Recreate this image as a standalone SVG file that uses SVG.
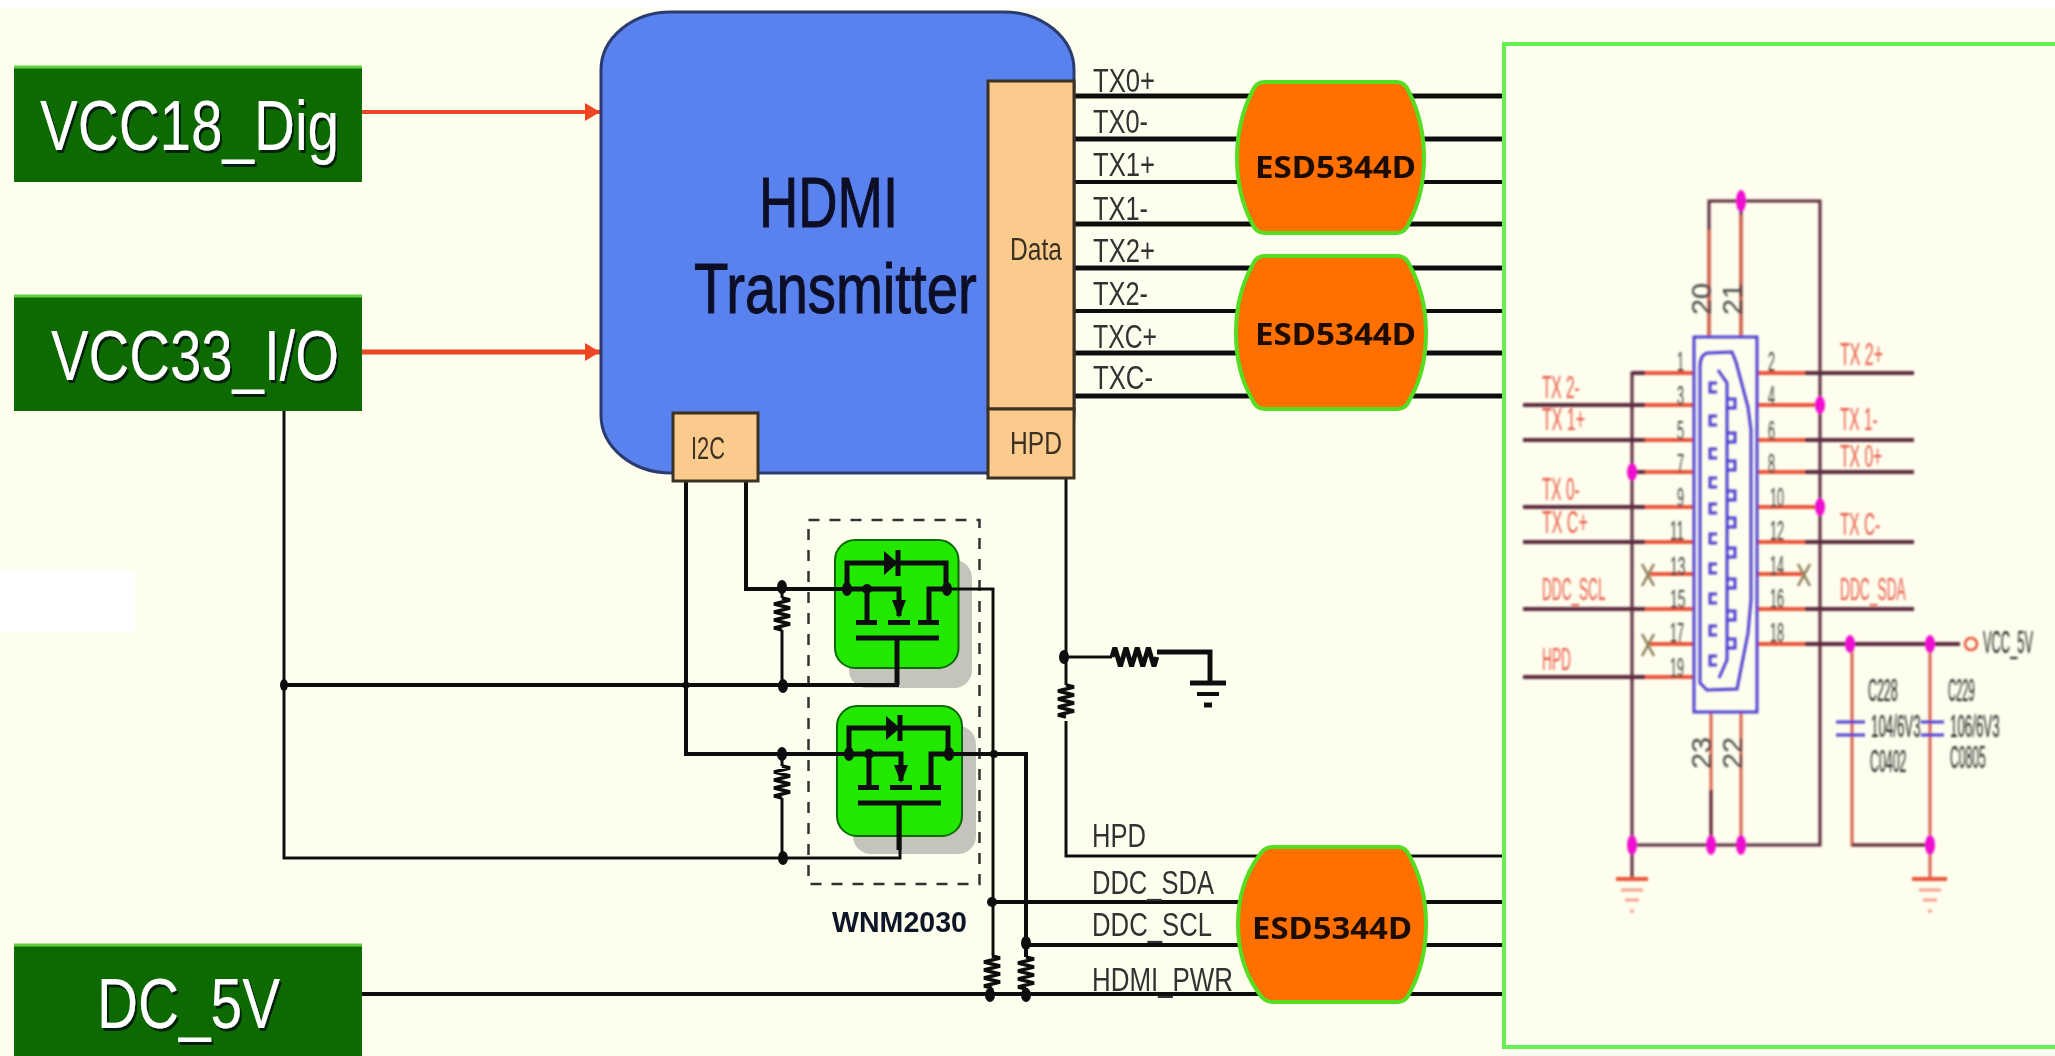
<svg xmlns="http://www.w3.org/2000/svg" xmlns:xlink="http://www.w3.org/1999/xlink" width="2055" height="1056" viewBox="0 0 2055 1056">
<style>
text{font-family:"Liberation Sans",Arial,sans-serif}
.w,.w2,.w3,.d,.r,.o,.m{fill:none}
.w{stroke:#111;stroke-width:4}
.w3{stroke:#111;stroke-width:3}
.w2{stroke:#111;stroke-width:5}
.tx{stroke:#111;stroke-width:5;fill:none}
.d{stroke:#5a2a3c;stroke-width:4}
.d2{stroke:#5a2a3c;stroke-width:3;fill:none}
.r{stroke:#e8553a;stroke-width:4}
.r2{stroke:#d8604a;stroke-width:3;fill:none}
.b{stroke:#5040d0;stroke-width:3;fill:none}
.x{stroke:#8a7a55;stroke-width:2.5;fill:none}
.g{stroke:#f4a090;stroke-width:3;fill:none}
.m{fill:#ee10d0;stroke:none}
.n{fill:#111;stroke:none}
.pw{fill:#0d6b02;stroke:none}
.pt{fill:#fff;font-size:70px;filter:url(#sh)}
.lb{fill:#333;font-size:33px}
.bx{fill:#fbcb8e;stroke:#3a3020;stroke-width:3}
.bt{fill:#3a3020;font-size:31px}
.es{fill:#ff7000;stroke:#55dd22;stroke-width:4}
.et{fill:#1a0a00;font-size:30px;font-weight:bold;font-family:"Noto Sans","Liberation Sans",sans-serif}
.pn{fill:#444;font-size:28px}
.rl{fill:#e85a48;font-size:32px}
.cl{fill:#222;font-size:31px}
.q{fill:#22e800;stroke:#0a6a00;stroke-width:2}
.s{fill:#c4c4bc}
.hd{fill:#0a1028;font-size:70px;stroke:#0a1028;stroke-width:1}
</style>
<defs>
<filter id="sh" x="-5%" y="-5%" width="110%" height="115%"><feDropShadow dx="2" dy="3" stdDeviation="0.6" flood-color="#02200a"/></filter>
<filter id="bl" x="-2%" y="-2%" width="104%" height="104%"><feGaussianBlur stdDeviation="1"/></filter>
<filter id="bs" x="-2%" y="-2%" width="104%" height="104%"><feGaussianBlur stdDeviation="0.5"/></filter>
<marker id="ah" markerUnits="userSpaceOnUse" markerWidth="15" markerHeight="18" refX="15" refY="9" orient="auto"><path d="M0 0L15 9L0 18Z" fill="#ee4422"/></marker>
<path id="res" d="M0 0l8 2l-16 4l16 4l-16 4l16 4l-16 4l16 4l-16 4l8 2" fill="none" stroke="#111" stroke-width="3.500"/>
<g id="mos">
<path d="M12 49V23H111V49M12 49H64V76M32 49V82M94 82V49H112M21 82.500H42M53 82.500H75M83 82.500H104M21 98H104M62 98V145" class="w2"/>
<path d="M49 11L63 23L49 35Z" fill="#111"/><path d="M63 10V36" class="w2"/>
<path d="M57 60H71L64 78Z" fill="#111"/>
<circle cx="32" cy="49" r="5" class="n"/><ellipse cx="12" cy="49" rx="5" ry="7" class="n"/><ellipse cx="112" cy="49" rx="5" ry="7" class="n"/>
</g>
</defs>
<rect id="background" width="2055" height="1056" fill="#fefeee"/>
<rect width="2055" height="8" fill="#fff"/>
<rect x="0" y="571" width="135" height="61" fill="#fff"/>

<g filter="url(#bs)">
<g id="WNM2030">
<rect x="808.500" y="520" width="171" height="364" fill="none" stroke="#333" stroke-width="2.500" stroke-dasharray="11 10"/>
<rect class="s" x="849" y="560" width="123" height="128" rx="18"/>
<rect class="q" x="835" y="540" width="123.500" height="128" rx="20"/>
<rect class="s" x="853" y="726" width="123" height="128" rx="18"/>
<rect class="q" x="837" y="706" width="125" height="130" rx="20"/>
<text x="832" y="932" font-size="30" font-weight="bold" fill="#101828" textLength="135" lengthAdjust="spacingAndGlyphs">WNM2030</text>
</g>

<g id="connectors">
<path class="tx" d="M1074 96H1503M1074 139H1503M1074 224H1503M1074 268H1503M1074 353H1503M1074 396H1503"/>
<path class="w" d="M1074 182H1503M1074 311H1503"/>
<path d="M362 112H600" stroke="#ee4422" stroke-width="4" fill="none" marker-end="url(#ah)"/>
<path d="M362 352H600" stroke="#ee4422" stroke-width="5" fill="none" marker-end="url(#ah)"/>
<path class="w3" d="M284 411V685"/>
<path class="w3" d="M284 685V858H900V806"/>
<path class="w" d="M284 685H897V640"/>
<path class="w" d="M686 481V754H849"/>
<path class="w" d="M746 481V589H847"/>
<path class="w3" d="M947 589H993V902V956M992 988V995"/>
<path class="w" d="M947 754H1026V957M1026 988V995"/>
<path class="w" d="M992 902H1503M1026 945H1503"/>
<path class="w" d="M362 994H1503"/>
<path class="w3" d="M1066 478V685M1066 721V856H1503"/>
<path class="w3" d="M1064 657H1112"/>
<path class="w2" d="M1157 652H1210V683"/>
<path class="w2" d="M1190 683H1226"/><path class="w" d="M1197 694H1219"/><path class="w2" d="M1204 705H1212"/>
<path class="w3" d="M782 589V598M782 630V685M782 754V766M782 798V858"/>
<use xlink:href="#res" href="#res" x="782" y="598"/>
<use xlink:href="#res" href="#res" x="782" y="766"/>
<use xlink:href="#res" href="#res" x="1066" y="685"/>
<use xlink:href="#res" href="#res" x="992" y="956"/>
<use xlink:href="#res" href="#res" x="1026" y="957"/>
<use xlink:href="#res" href="#res" transform="translate(1112 657) rotate(-90) scale(1.200 1.400)"/>
<use xlink:href="#mos" href="#mos" x="835" y="540"/>
<use xlink:href="#mos" href="#mos" x="837" y="705"/>
<g class="n">
<ellipse cx="284" cy="685" rx="4" ry="6"/><ellipse cx="782" cy="587" rx="5" ry="7"/><ellipse cx="783" cy="686" rx="5" ry="7"/><ellipse cx="782" cy="754" rx="5" ry="7"/><ellipse cx="783" cy="858" rx="5" ry="7"/>
<ellipse cx="1064" cy="657" rx="5" ry="7"/><circle cx="686" cy="685" r="3.500"/><circle cx="994" cy="754" r="4"/><circle cx="992" cy="902" r="5"/><circle cx="1026" cy="902" r="3"/><ellipse cx="1026" cy="943" rx="5" ry="7"/><ellipse cx="990" cy="995" rx="5" ry="7"/><ellipse cx="1026" cy="995" rx="5" ry="7"/>
</g>
</g>

<g id="VCC18_Dig"><rect class="pw" x="14" y="66" width="348" height="116"/><path d="M14 67H362" stroke="#5fd040" stroke-width="3"/><text class="pt" x="40" y="150" textLength="299" lengthAdjust="spacingAndGlyphs">VCC18_Dig</text></g>
<g id="VCC33_IO"><rect class="pw" x="14" y="295" width="348" height="116"/><path d="M14 296H362" stroke="#5fd040" stroke-width="3"/><text class="pt" x="51" y="380" textLength="288" lengthAdjust="spacingAndGlyphs">VCC33_I/O</text></g>
<g id="DC_5V"><rect class="pw" x="14" y="944" width="348" height="112"/><path d="M14 945H362" stroke="#5fd040" stroke-width="3"/><text class="pt" x="97" y="1028" textLength="183" lengthAdjust="spacingAndGlyphs">DC_5V</text></g>

<g id="HDMI_Transmitter">
<rect x="601" y="12" width="473" height="461" rx="70" ry="58" fill="#5a82ee" stroke="#2a3a70" stroke-width="3"/>
<text class="hd" x="759" y="227" textLength="139" lengthAdjust="spacingAndGlyphs">HDMI</text>
<text class="hd" transform="translate(694 313) scale(0.805 1)">Transmitter</text>
</g>
<g id="I2C"><rect class="bx" x="673" y="413" width="85" height="68"/><text class="bt" x="691" y="459" textLength="34" lengthAdjust="spacingAndGlyphs">I2C</text></g>
<g id="Data"><rect class="bx" x="988" y="81" width="86" height="328"/><text class="bt" x="1010" y="260" textLength="52" lengthAdjust="spacingAndGlyphs">Data</text></g>
<g id="HPD"><rect class="bx" x="988" y="409" width="86" height="69"/><text class="bt" x="1010" y="454" textLength="52" lengthAdjust="spacingAndGlyphs">HPD</text></g>

<g id="signal-labels">
<text class="lb" x="1093" y="92" textLength="62" lengthAdjust="spacingAndGlyphs">TX0+</text>
<text class="lb" x="1093" y="133" textLength="55" lengthAdjust="spacingAndGlyphs">TX0-</text>
<text class="lb" x="1093" y="176" textLength="62" lengthAdjust="spacingAndGlyphs">TX1+</text>
<text class="lb" x="1093" y="220" textLength="55" lengthAdjust="spacingAndGlyphs">TX1-</text>
<text class="lb" x="1093" y="262" textLength="62" lengthAdjust="spacingAndGlyphs">TX2+</text>
<text class="lb" x="1093" y="305" textLength="55" lengthAdjust="spacingAndGlyphs">TX2-</text>
<text class="lb" x="1093" y="348" textLength="64" lengthAdjust="spacingAndGlyphs">TXC+</text>
<text class="lb" x="1093" y="389" textLength="60" lengthAdjust="spacingAndGlyphs">TXC-</text>
<text class="lb" x="1092" y="847" textLength="54" lengthAdjust="spacingAndGlyphs">HPD</text>
<text class="lb" x="1092" y="894" textLength="122" lengthAdjust="spacingAndGlyphs">DDC_SDA</text>
<text class="lb" x="1092" y="936" textLength="120" lengthAdjust="spacingAndGlyphs">DDC_SCL</text>
<text class="lb" x="1092" y="991" textLength="141" lengthAdjust="spacingAndGlyphs">HDMI_PWR</text>
</g>

<g id="ESD1"><path class="es" stroke-width="2" d="M1264 82H1397Q1405 82 1409 92C1419 112 1424 135 1424 158C1424 181 1419 204 1409 223Q1405 233 1397 233H1264Q1256 233 1252 223C1242 204 1237 181 1237 158C1237 135 1242 112 1252 92Q1256 82 1264 82Z"/><text class="et" x="1255" y="178" textLength="161" lengthAdjust="spacingAndGlyphs">ESD5344D</text></g>
<g id="ESD2"><path class="es" d="M1264 256H1398Q1406 256 1410 266C1421 286 1426 310 1426 333C1426 356 1421 380 1410 399Q1406 409 1398 409H1264Q1256 409 1252 399C1241 380 1236 356 1236 333C1236 310 1241 286 1252 266Q1256 256 1264 256Z"/><text class="et" x="1255" y="345" textLength="161" lengthAdjust="spacingAndGlyphs">ESD5344D</text></g>
<g id="ESD3"><path class="es" d="M1272 847H1398Q1406 847 1410 857C1421 877 1426 900 1426 924C1426 948 1421 972 1410 992Q1406 1002 1398 1002H1272Q1264 1002 1258 992C1244 972 1238 948 1238 924C1238 900 1244 877 1258 857Q1264 847 1272 847Z"/><text class="et" x="1252" y="939" textLength="160" lengthAdjust="spacingAndGlyphs">ESD5344D</text></g>
</g>

<rect id="connector-panel" x="1504" y="44" width="560" height="1003" fill="none" stroke="#66ee55" stroke-width="4"/>

<g id="HDMI_connector" filter="url(#bl)">
<path class="d2" d="M1709 337V201H1820V845H1632V373H1694M1741 337V201"/>
<path class="r2" d="M1709 337V230M1741 337V215M1711 712V845M1741 712V845"/>
<path class="d2" d="M1711 790V845"/>
<path class="d" d="M1523 405H1645M1523 440H1645M1523 507H1645M1523 542H1645M1523 609H1645M1523 677H1645M1632 373H1645M1632 472H1645"/>
<path class="r" d="M1645 373H1694M1645 405H1694M1645 440H1694M1645 472H1694M1645 507H1694M1645 542H1694M1650 574H1694M1645 609H1694M1650 644H1694M1645 677H1694"/>
<path class="r" d="M1757 373H1805M1757 405H1820M1757 440H1805M1757 472H1805M1757 507H1820M1757 542H1805M1757 574H1802M1757 609H1805M1757 644H1805"/>
<path class="d" d="M1805 373H1914M1805 440H1914M1805 472H1914M1805 542H1914M1805 609H1914M1805 644H1960"/>
<path class="x" d="M1642 564L1654 586M1654 564L1642 586M1642 634L1654 656M1654 634L1642 656M1798 564L1810 586M1810 564L1798 586"/>
<circle cx="1971" cy="644" r="6" fill="none" stroke="#e8553a" stroke-width="2.500"/>
<path class="r2" d="M1852 644V845H1930M1930 644V845V878" stroke="#b06a70"/>
<path class="d2" d="M1852 845H1930M1632 845V878"/>
<path class="r" d="M1616 879H1648M1912 879H1947"/>
<path class="g" d="M1621 890H1643M1625 900H1639M1630 911H1634M1919 890H1941M1923 900H1937M1928 911H1932"/>
<path class="b" d="M1836 722H1865M1836 735H1865M1921 722H1944M1921 735H1944"/>
<rect class="b" x="1694" y="337" width="63" height="375"/>
<path class="b" d="M1700 367Q1700 354 1708 353L1732 352L1736 362L1748 407L1751 430V600L1748 633L1737 689L1707 690L1700 683ZM1718 370L1727 383V660L1719 678"/>
<path class="b" stroke-width="3.500" d="M1717 383H1710V392H1717M1717 416H1710V425H1717M1717 449H1710V458H1717M1717 478H1710V487H1717M1717 504H1710V513H1717M1717 534H1710V543H1717M1717 564H1710V573H1717M1717 594H1710V603H1717M1717 626H1710V635H1717M1717 656H1710V665H1717"/>
<path class="b" stroke-width="3.500" d="M1728 399H1735V408H1728M1728 433H1735V442H1728M1728 461H1735V470H1728M1728 491H1735V500H1728M1728 518H1735V527H1728M1728 548H1735V557H1728M1728 579H1735V588H1728M1728 611H1735V620H1728M1728 639H1735V648H1728"/>
<g class="m">
<ellipse cx="1741" cy="201" rx="5" ry="11"/><ellipse cx="1820" cy="405" rx="5" ry="9"/><ellipse cx="1820" cy="507" rx="5" ry="9"/><ellipse cx="1632" cy="472" rx="5" ry="9"/><ellipse cx="1850" cy="644" rx="5" ry="9"/><ellipse cx="1930" cy="644" rx="5" ry="9"/>
<ellipse cx="1632" cy="845" rx="5" ry="10"/><ellipse cx="1711" cy="845" rx="5" ry="10"/><ellipse cx="1741" cy="845" rx="5" ry="10"/><ellipse cx="1930" cy="845" rx="5" ry="10"/>
</g>
<g class="pn">
<text x="1677" y="371" textLength="7" lengthAdjust="spacingAndGlyphs">1</text>
<text x="1677" y="405" textLength="7" lengthAdjust="spacingAndGlyphs">3</text>
<text x="1677" y="440" textLength="7" lengthAdjust="spacingAndGlyphs">5</text>
<text x="1677" y="473" textLength="7" lengthAdjust="spacingAndGlyphs">7</text>
<text x="1677" y="507" textLength="7" lengthAdjust="spacingAndGlyphs">9</text>
<text x="1670" y="540" textLength="14" lengthAdjust="spacingAndGlyphs">11</text>
<text transform="translate(1670 575) scale(0.500 0.9)">13</text>
<text transform="translate(1670 608) scale(0.500 0.9)">15</text>
<text x="1670" y="642" textLength="14" lengthAdjust="spacingAndGlyphs">17</text>
<text x="1670" y="677" textLength="14" lengthAdjust="spacingAndGlyphs">19</text>
<text x="1768" y="371" textLength="7" lengthAdjust="spacingAndGlyphs">2</text>
<text x="1768" y="405" textLength="7" lengthAdjust="spacingAndGlyphs">4</text>
<text x="1768" y="440" textLength="7" lengthAdjust="spacingAndGlyphs">6</text>
<text x="1768" y="473" textLength="7" lengthAdjust="spacingAndGlyphs">8</text>
<text x="1770" y="507" textLength="14" lengthAdjust="spacingAndGlyphs">10</text>
<text x="1770" y="540" textLength="14" lengthAdjust="spacingAndGlyphs">12</text>
<text x="1770" y="575" textLength="14" lengthAdjust="spacingAndGlyphs">14</text>
<text x="1770" y="608" textLength="14" lengthAdjust="spacingAndGlyphs">16</text>
<text x="1770" y="642" textLength="14" lengthAdjust="spacingAndGlyphs">18</text>
<text transform="translate(1711 315) rotate(-90)" textLength="32" lengthAdjust="spacingAndGlyphs">20</text>
<text transform="translate(1742 315) rotate(-90)" textLength="32" lengthAdjust="spacingAndGlyphs">21</text>
<text transform="translate(1711 769) rotate(-90)" textLength="32" lengthAdjust="spacingAndGlyphs">23</text>
<text transform="translate(1742 769) rotate(-90)" textLength="32" lengthAdjust="spacingAndGlyphs">22</text>
</g>
<g class="rl">
<text transform="translate(1542 398) scale(0.480 1)">TX 2-</text>
<text transform="translate(1542 430) scale(0.500 1)">TX 1+</text>
<text transform="translate(1542 500) scale(0.480 1)">TX 0-</text>
<text transform="translate(1542 533) scale(0.500 1)">TX C+</text>
<text transform="translate(1542 600) scale(0.425 1)">DDC_SCL</text>
<text transform="translate(1542 670) scale(0.430 1)">HPD</text>
<text transform="translate(1840 365) scale(0.500 1)">TX 2+</text>
<text transform="translate(1840 430) scale(0.480 1)">TX 1-</text>
<text transform="translate(1840 467) scale(0.490 1)">TX 0+</text>
<text transform="translate(1840 535) scale(0.480 1)">TX C-</text>
<text transform="translate(1840 600) scale(0.430 1)">DDC_SDA</text>
</g>
<g class="cl">
<text transform="translate(1983 653) scale(0.415 1)">VCC_5V</text>
<text transform="translate(1868 701) scale(0.400 1)">C228</text>
<text transform="translate(1948 701) scale(0.360 1)">C229</text>
<text transform="translate(1871 737) scale(0.430 1)">104/6V3</text>
<text transform="translate(1950 737) scale(0.430 1)">106/6V3</text>
<text transform="translate(1870 772) scale(0.400 1)">C0402</text>
<text transform="translate(1950 768) scale(0.390 1)">C0805</text>
</g>
</g>
</svg>
